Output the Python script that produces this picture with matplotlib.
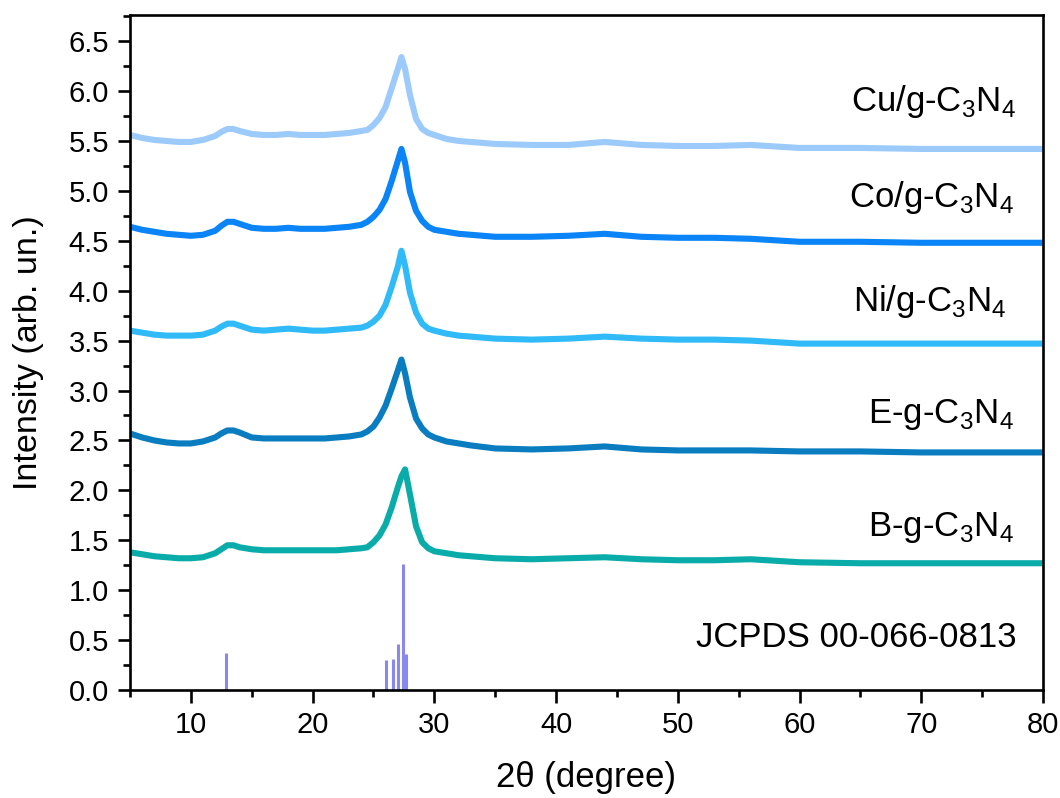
import matplotlib.pyplot as plt
from matplotlib.ticker import MultipleLocator

plt.rcParams['font.family'] = ['Liberation Sans', 'DejaVu Sans']
plt.rcParams['mathtext.fontset'] = 'custom'
plt.rcParams['mathtext.rm'] = 'Liberation Sans'

# 2-theta sampling points (degree)
two_theta = [5, 6, 7, 8, 9, 10, 11, 12, 12.5, 13, 13.5, 14, 15, 16, 17, 18, 19, 20,
             21, 22, 23, 24, 24.5, 25, 25.5, 26, 26.5, 27, 27.3, 27.6, 28, 28.5, 29,
             29.5, 30, 31, 32, 33, 35, 38, 41, 44, 47, 50, 53, 56, 60, 65, 70, 75, 80]

# stacked intensities (offset per sample)
cu_gcn = [5.56, 5.53, 5.51, 5.50, 5.49, 5.49, 5.51, 5.55, 5.59, 5.62, 5.62, 5.60, 5.57,
          5.56, 5.56, 5.57, 5.56, 5.56, 5.56, 5.57, 5.58, 5.60, 5.61, 5.66, 5.73, 5.84,
          6.03, 6.22, 6.34, 6.22, 5.96, 5.72, 5.62, 5.58, 5.56, 5.52, 5.50, 5.49, 5.47,
          5.46, 5.46, 5.49, 5.46, 5.45, 5.45, 5.46, 5.43, 5.43, 5.42, 5.42, 5.42]
co_gcn = [4.64, 4.61, 4.59, 4.57, 4.56, 4.55, 4.56, 4.60, 4.65, 4.69, 4.69, 4.67, 4.63,
          4.62, 4.62, 4.63, 4.62, 4.62, 4.62, 4.63, 4.64, 4.66, 4.69, 4.74, 4.81, 4.92,
          5.10, 5.30, 5.42, 5.28, 4.99, 4.80, 4.70, 4.64, 4.61, 4.59, 4.57, 4.56, 4.54,
          4.54, 4.55, 4.57, 4.54, 4.53, 4.53, 4.52, 4.49, 4.49, 4.48, 4.48, 4.48]
ni_gcn = [3.60, 3.58, 3.56, 3.55, 3.55, 3.55, 3.56, 3.60, 3.64, 3.67, 3.67, 3.65, 3.61,
          3.60, 3.61, 3.62, 3.61, 3.60, 3.60, 3.61, 3.62, 3.63, 3.65, 3.69, 3.75, 3.86,
          4.04, 4.24, 4.40, 4.25, 3.98, 3.78, 3.67, 3.62, 3.60, 3.57, 3.55, 3.54, 3.52,
          3.51, 3.52, 3.54, 3.52, 3.51, 3.51, 3.50, 3.47, 3.47, 3.47, 3.47, 3.47]
e_gcn = [2.57, 2.53, 2.50, 2.48, 2.47, 2.47, 2.49, 2.53, 2.57, 2.60, 2.60, 2.58, 2.53,
         2.52, 2.52, 2.52, 2.52, 2.52, 2.52, 2.53, 2.54, 2.56, 2.59, 2.64, 2.73, 2.85,
         3.02, 3.20, 3.31, 3.17, 2.93, 2.72, 2.62, 2.56, 2.53, 2.49, 2.47, 2.45, 2.42,
         2.41, 2.42, 2.44, 2.41, 2.40, 2.40, 2.40, 2.39, 2.39, 2.38, 2.38, 2.38]
b_gcn = [1.38, 1.36, 1.34, 1.33, 1.32, 1.32, 1.33, 1.37, 1.41, 1.45, 1.45, 1.43, 1.41,
         1.40, 1.40, 1.40, 1.40, 1.40, 1.40, 1.40, 1.41, 1.42, 1.43, 1.48, 1.55, 1.66,
         1.83, 2.03, 2.14, 2.21, 1.96, 1.64, 1.48, 1.42, 1.39, 1.37, 1.35, 1.34, 1.32,
         1.31, 1.32, 1.33, 1.31, 1.30, 1.30, 1.31, 1.28, 1.27, 1.27, 1.27, 1.27]

# JCPDS 00-066-0813 reference lines
ref_pos = [12.9, 26.0, 26.6, 27.0, 27.4, 27.7]
ref_int = [0.37, 0.30, 0.31, 0.46, 1.26, 0.36]

series = [
    (cu_gcn, '#9ccbfb', 'Cu/g-C$_\\mathregular{3}$N$_\\mathregular{4}$', 77.8, 5.90),
    (co_gcn, '#0a84f7', 'Co/g-C$_\\mathregular{3}$N$_\\mathregular{4}$', 77.6, 4.93),
    (ni_gcn, '#30baf8', 'Ni/g-C$_\\mathregular{3}$N$_\\mathregular{4}$', 77.0, 3.89),
    (e_gcn, '#0a7dc0', 'E-g-C$_\\mathregular{3}$N$_\\mathregular{4}$', 77.6, 2.76),
    (b_gcn, '#0aacaa', 'B-g-C$_\\mathregular{3}$N$_\\mathregular{4}$', 77.6, 1.63),
]

fig = plt.figure(figsize=(10.6, 7.98), dpi=100)
ax = fig.add_axes([0.1226, 0.1353, 0.8614, 0.8457])

for y, color, label, tx, ty in series:
    ax.plot(two_theta, y, color=color, lw=4.4, solid_joinstyle='round')
    ax.text(tx, ty, label, fontsize=25, ha='right', va='center')

ax.vlines(ref_pos, 0, ref_int, color='#8888ee', lw=2.2)
ax.text(77.8, 0.53, 'JCPDS 00-066-0813', fontsize=25, ha='right', va='center')

ax.set_xlim(5, 80)
ax.set_ylim(0, 6.76)
ax.xaxis.set_major_locator(MultipleLocator(10))
ax.xaxis.set_minor_locator(MultipleLocator(5))
ax.yaxis.set_major_locator(MultipleLocator(0.5))
ax.yaxis.set_minor_locator(MultipleLocator(0.25))
ax.yaxis.set_major_formatter(plt.FormatStrFormatter('%.1f'))

for s in ax.spines.values():
    s.set_linewidth(1.9)
ax.tick_params(which='major', direction='out', length=9, width=1.9, labelsize=21, pad=6)
ax.tick_params(which='minor', direction='out', length=5, width=1.9)

ax.set_xlabel('2θ (degree)', fontsize=25, labelpad=16)
ax.set_ylabel('Intensity (arb. un.)', fontsize=24.5, labelpad=18)

fig.savefig('out.png', dpi=100)
